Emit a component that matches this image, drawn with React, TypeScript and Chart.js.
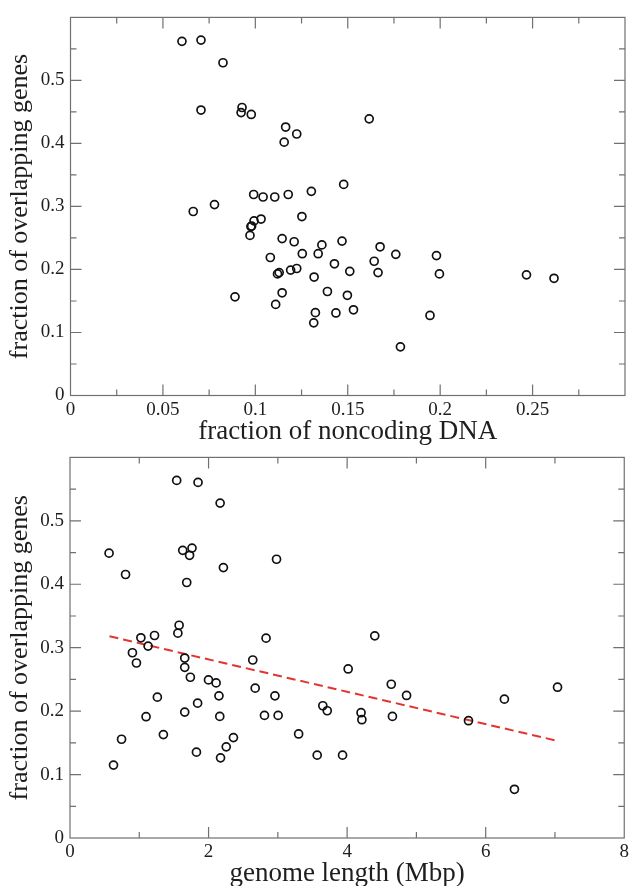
import React, { useEffect, useRef } from "react";
import { Chart, registerables } from "chart.js";

Chart.register(...registerables);

// ---- Top panel: fraction of noncoding DNA vs fraction of overlapping genes ----
const noncodingFraction = [
  0.0603, 0.0706, 0.0825, 0.0706, 0.0928, 0.0923, 0.0978, 0.1616, 0.1164, 0.1224,
  0.1156, 0.1478, 0.1303, 0.0991, 0.1042, 0.1105, 0.1178, 0.0779, 0.0664, 0.1252,
  0.1031, 0.0993, 0.098, 0.0976, 0.0971, 0.1145, 0.121, 0.1469, 0.136, 0.1675,
  0.176, 0.198, 0.1254, 0.134, 0.1081, 0.1643, 0.1428, 0.1191, 0.1224, 0.1511,
  0.1664, 0.112, 0.1129, 0.1996, 0.1318, 0.2467, 0.2616, 0.139, 0.1145, 0.1498,
  0.089, 0.111, 0.1531, 0.1325, 0.1436, 0.1945, 0.1316, 0.1785,
];
const overlapFractionTop = [
  0.562, 0.564, 0.528, 0.453, 0.457, 0.449, 0.446, 0.439, 0.426, 0.415,
  0.402, 0.335, 0.324, 0.319, 0.315, 0.315, 0.319, 0.303, 0.292, 0.284,
  0.28, 0.277, 0.269, 0.268, 0.254, 0.249, 0.244, 0.245, 0.239, 0.236,
  0.224, 0.222, 0.225, 0.225, 0.219, 0.213, 0.209, 0.199, 0.2015, 0.197,
  0.195, 0.193, 0.195, 0.193, 0.188, 0.1915, 0.186, 0.165, 0.163, 0.159,
  0.1566, 0.1446, 0.136, 0.1315, 0.131, 0.127, 0.1153, 0.0772,
];

// ---- Bottom panel: genome length vs fraction of overlapping genes ----
const genomeLength = [
  1.54, 1.848, 2.167, 0.564, 1.627, 1.761, 1.726, 2.981, 0.802, 2.214,
  1.685, 1.575, 1.557, 1.22, 1.023, 2.83, 4.399, 1.127, 0.901, 1.656,
  2.638, 0.959, 1.656, 4.015, 1.737, 1.999, 2.109, 4.637, 7.037, 2.673,
  1.261, 2.15, 2.958, 4.858, 6.27, 1.842, 3.649, 3.713, 1.656, 4.201,
  1.098, 2.162, 2.807, 3.004, 4.654, 4.213, 5.752, 0.744, 1.348, 3.3,
  2.359, 2.255, 1.825, 2.173, 3.568, 3.934, 0.628, 6.415,
];
const overlapFractionBottom = [
  0.5637, 0.5606, 0.528, 0.449, 0.4535, 0.457, 0.4457, 0.4394, 0.4154, 0.4263,
  0.4028, 0.3354, 0.3229, 0.3192, 0.3156, 0.315, 0.3187, 0.3025, 0.292, 0.2837,
  0.2806, 0.2759, 0.269, 0.2665, 0.2534, 0.2492, 0.2445, 0.2424, 0.2377, 0.2362,
  0.222, 0.2241, 0.2241, 0.2247, 0.2189, 0.2126, 0.2085, 0.2006, 0.1985, 0.1975,
  0.1912, 0.1917, 0.1933, 0.1933, 0.1917, 0.1865, 0.1849, 0.1557, 0.163, 0.164,
  0.1583, 0.1437, 0.1353, 0.1264, 0.1306, 0.1306, 0.1149, 0.0768,
];
const fitGenomeLength = [0.57, 7.04];
const fitOverlap = [0.318, 0.153];

// ---- Ticks ----
const topXTicks = [0, 0.05, 0.1, 0.15, 0.2, 0.25];
const topXTickLabels = ["0", "0.05", "0.1", "0.15", "0.2", "0.25"];
const topXMinorTicks = [0.025, 0.075, 0.125, 0.175, 0.225, 0.275];
const yTicks = [0, 0.1, 0.2, 0.3, 0.4, 0.5];
const yTickLabels = ["0", "0.1", "0.2", "0.3", "0.4", "0.5"];
const yMinorTicks = [0.05, 0.15, 0.25, 0.35, 0.45, 0.55];
const bottomXTicks = [0, 2, 4, 6, 8];
const bottomXTickLabels = ["0", "2", "4", "6", "8"];
const bottomXMinorTicks = [1, 3, 5, 7];

const FONT = "'Liberation Serif', 'Times New Roman', 'DejaVu Serif', serif";
const TEXT = "#1e1e1e";
const FRAME = "#707070";

const frameTicks = {
  id: "frameTicks",
  afterDatasetsDraw(chart: any, _args: any, opts: any) {
    const { ctx, chartArea } = chart;
    const { left, right, top, bottom } = chartArea;
    const xs = chart.scales.x;
    const ys = chart.scales.y;
    ctx.save();
    ctx.strokeStyle = FRAME;
    ctx.lineWidth = 1.2;
    ctx.strokeRect(left, top, right - left, bottom - top);
    const drawX = (vals: number[], len: number) => {
      vals.forEach((v) => {
        const px = xs.getPixelForValue(v);
        if (px <= left + 0.5 || px >= right - 0.5) return;
        ctx.beginPath();
        ctx.moveTo(px, bottom);
        ctx.lineTo(px, bottom - len);
        ctx.moveTo(px, top);
        ctx.lineTo(px, top + len);
        ctx.stroke();
      });
    };
    const drawY = (vals: number[], len: number) => {
      vals.forEach((v) => {
        const py = ys.getPixelForValue(v);
        if (py >= bottom - 0.5 || py <= top + 0.5) return;
        ctx.beginPath();
        ctx.moveTo(left, py);
        ctx.lineTo(left + len, py);
        ctx.moveTo(right, py);
        ctx.lineTo(right - len, py);
        ctx.stroke();
      });
    };
    drawX(opts.xMajor, 11);
    drawX(opts.xMinor, 6);
    drawY(opts.yMajor, 11);
    drawY(opts.yMinor, 6);
    ctx.restore();
  },
};

function makeTicks(values: number[], labels: string[]) {
  return (scale: any) => {
    scale.ticks = values.map((v, i) => ({ value: v, label: labels[i] }));
  };
}

function labelFrom(values: number[], labels: string[]) {
  return (value: any) => {
    const i = values.findIndex((v) => Math.abs(v - Number(value)) < 1e-9);
    return i >= 0 ? labels[i] : "";
  };
}

function buildConfig(p: {
  xs: number[];
  ys: number[];
  xMax: number;
  xTicks: number[];
  xLabels: string[];
  xMinor: number[];
  xTitle: string;
  padTop: number;
  padBottom: number;
  yWidth: number;
  xHeight: number;
  fit?: { x: number[]; y: number[] };
}) {
  const datasets: any[] = [
    {
      type: "scatter",
      data: p.xs.map((x, i) => ({ x, y: p.ys[i] })),
      pointStyle: "circle",
      pointRadius: 4,
      pointBorderWidth: 1.7,
      pointBorderColor: "#111111",
      pointBackgroundColor: "rgba(0,0,0,0)",
      borderColor: "#111111",
      backgroundColor: "rgba(0,0,0,0)",
    },
  ];
  if (p.fit) {
    datasets.push({
      type: "line",
      data: p.fit.x.map((x, i) => ({ x, y: p.fit!.y[i] })),
      showLine: true,
      borderColor: "#e3342f",
      borderWidth: 2,
      borderDash: [9, 5],
      pointRadius: 0,
      fill: false,
      tension: 0,
    });
  }
  return {
    type: "scatter" as const,
    data: { datasets },
    options: {
      animation: false,
      responsive: false,
      devicePixelRatio: 1,
      events: [],
      layout: { padding: { top: p.padTop, right: 7, left: 0, bottom: p.padBottom } },
      plugins: {
        legend: { display: false },
        tooltip: { enabled: false },
        frameTicks: { xMajor: p.xTicks, xMinor: p.xMinor, yMajor: yTicks, yMinor: yMinorTicks },
      },
      scales: {
        x: {
          type: "linear",
          min: 0,
          max: p.xMax,
          afterBuildTicks: makeTicks(p.xTicks, p.xLabels),
          afterFit: (s: any) => {
            s.height = p.xHeight;
          },
          grid: { display: false, drawTicks: false },
          border: { display: false },
          ticks: {
            padding: 3,
            maxRotation: 0,
            autoSkip: false,
            color: TEXT,
            font: { family: FONT, size: 19 },
            callback: labelFrom(p.xTicks, p.xLabels),
          },
          title: {
            display: true,
            text: p.xTitle,
            color: TEXT,
            font: { family: FONT, size: 27 },
            padding: { top: 0, bottom: 0 },
          },
        },
        y: {
          type: "linear",
          min: 0,
          max: 0.6,
          afterBuildTicks: makeTicks(yTicks, yTickLabels),
          afterFit: (s: any) => {
            s.width = p.yWidth;
          },
          grid: { display: false, drawTicks: false },
          border: { display: false },
          ticks: {
            padding: 6,
            autoSkip: false,
            color: TEXT,
            font: { family: FONT, size: 19 },
            callback: labelFrom(yTicks, yTickLabels),
          },
          title: {
            display: true,
            text: "fraction of overlapping genes",
            color: TEXT,
            font: { family: FONT, size: 26 },
            padding: { top: 5, bottom: 0 },
          },
        },
      },
    },
    plugins: [frameTicks],
  };
}

export default function App() {
  const topRef = useRef<HTMLCanvasElement | null>(null);
  const bottomRef = useRef<HTMLCanvasElement | null>(null);

  useEffect(() => {
    if (!topRef.current || !bottomRef.current) return;
    const top = new Chart(
      topRef.current,
      buildConfig({
        xs: noncodingFraction,
        ys: overlapFractionTop,
        xMax: 0.3,
        xTicks: topXTicks,
        xLabels: topXTickLabels,
        xMinor: topXMinorTicks,
        xTitle: "fraction of noncoding DNA",
        padTop: 13,
        padBottom: 12,
        yWidth: 70.5,
        xHeight: 52.5,
      }) as any
    );
    const bottom = new Chart(
      bottomRef.current,
      buildConfig({
        xs: genomeLength,
        ys: overlapFractionBottom,
        xMax: 8,
        xTicks: bottomXTicks,
        xLabels: bottomXTickLabels,
        xMinor: bottomXMinorTicks,
        xTitle: "genome length (Mbp)",
        padTop: 15,
        padBottom: 4,
        yWidth: 70,
        xHeight: 52,
        fit: { x: fitGenomeLength, y: fitOverlap },
      }) as any
    );
    return () => {
      top.destroy();
      bottom.destroy();
    };
  }, []);

  return (
    <div
      style={{
        position: "fixed",
        left: 0,
        top: 0,
        width: 632,
        height: 886,
        overflow: "hidden",
        background: "#ffffff",
      }}
    >
      <canvas
        ref={topRef}
        width={632}
        height={460}
        style={{ position: "absolute", left: 0, top: 0, width: 632, height: 460 }}
      />
      <canvas
        ref={bottomRef}
        width={632}
        height={454}
        style={{ position: "absolute", left: 0, top: 440, width: 632, height: 454 }}
      />
    </div>
  );
}
